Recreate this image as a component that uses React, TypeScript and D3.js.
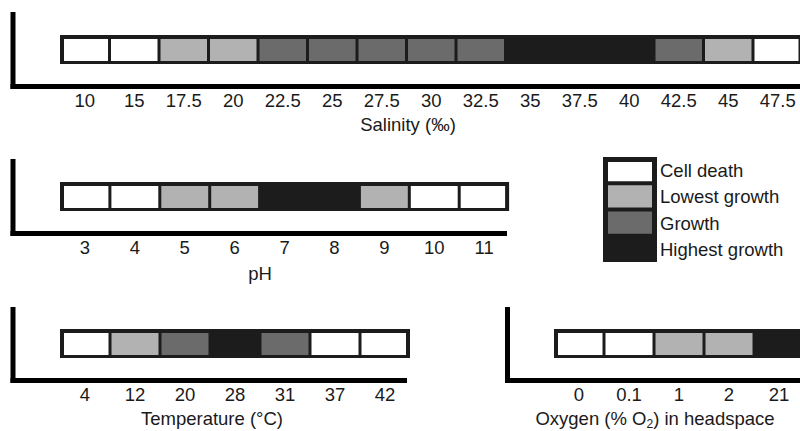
import React from "react";
import * as d3 from "d3";

// growth classes, lightest to darkest
const growthClasses = ["Cell death", "Lowest growth", "Growth", "Highest growth"];
const growthColors = ["#ffffff", "#b2b2b2", "#6b6b6b", "#1c1c1c"];

const salinityLevels = ["10", "15", "17.5", "20", "22.5", "25", "27.5", "30", "32.5", "35", "37.5", "40", "42.5", "45", "47.5"];
const salinityGrowth = [0, 0, 1, 1, 2, 2, 2, 2, 2, 3, 3, 3, 2, 1, 0];

const phLevels = ["3", "4", "5", "6", "7", "8", "9", "10", "11"];
const phGrowth = [0, 0, 1, 1, 3, 3, 1, 0, 0];

const tempLevels = ["4", "12", "20", "28", "31", "37", "42"];
const tempGrowth = [0, 1, 2, 3, 2, 0, 0];

const oxygenLevels = ["0", "0.1", "1", "2", "21"];
const oxygenGrowth = [0, 0, 1, 1, 3];

const FONT = "'Liberation Sans', Arial, Helvetica, sans-serif";
const DARK = "#1c1c1c";
const FS = 18.5;

type PanelProps = {
  levels: string[];
  growth: number[];
  axisX: number;
  axisTop: number;
  axisY: number;
  axisEnd: number;
  barX: number;
  barY: number;
  pitch: number;
  title: React.ReactNode;
  titleX: number;
  titleDy?: number;
};

function Panel(p: PanelProps) {
  const x = d3
    .scaleBand<string>()
    .domain(p.levels)
    .range([p.barX, p.barX + p.pitch * p.levels.length])
    .paddingInner(0);
  const color = d3.scaleOrdinal<number, string>().domain([0, 1, 2, 3]).range(growthColors);
  const barH = 29;
  const bw = x.bandwidth();
  const [r0, r1] = x.range();
  return (
    <g>
      {/* dark frame behind cells */}
      <rect x={r0} y={p.barY} width={r1 - r0} height={barH} fill={DARK} />
      {p.levels.map((lv, i) => (
        <rect
          key={lv}
          x={(x(lv) as number) + (i === 0 ? 4 : 1.5)}
          y={p.barY + 4}
          width={bw - (i === 0 ? 5.5 : 3) - (i === p.levels.length - 1 ? 2.5 : 0)}
          height={barH - 7}
          fill={color(p.growth[i])}
        />
      ))}
      {/* L-shaped axis */}
      <line x1={p.axisX} x2={p.axisX} y1={p.axisTop} y2={p.axisY + 2.5} stroke="#000" strokeWidth={5} />
      <line x1={p.axisX - 2.5} x2={p.axisEnd} y1={p.axisY} y2={p.axisY} stroke="#000" strokeWidth={5} />
      {p.levels.map((lv) => (
        <text
          key={"t" + lv}
          x={(x(lv) as number) + bw / 2}
          y={p.axisY + 20}
          textAnchor="middle"
          fontSize={FS}
          fontFamily={FONT}
          fill="#1a1a1a"
        >
          {lv}
        </text>
      ))}
      <text
        x={p.titleX}
        y={p.axisY + (p.titleDy ?? 44.5)}
        textAnchor="middle"
        fontSize={FS}
        fontFamily={FONT}
        fill="#1a1a1a"
      >
        {p.title}
      </text>
    </g>
  );
}

function Legend({ x, y }: { x: number; y: number }) {
  const yb = d3.scaleBand<string>().domain(growthClasses).range([y, y + 105]);
  const h = yb.bandwidth();
  return (
    <g>
      <rect x={x} y={y} width={54} height={105} fill={DARK} />
      {growthClasses.map((c, i) => (
        <g key={c}>
          <rect
            x={x + 5}
            y={(yb(c) as number) + (i === 0 ? 5 : 2)}
            width={44}
            height={h - (i === 0 ? 7 : 4)}
            fill={growthColors[i]}
          />
          <text
            x={x + 57}
            y={(yb(c) as number) + h / 2 + 7}
            fontSize={FS}
            fontFamily={FONT}
            fill="#1a1a1a"
          >
            {c}
          </text>
        </g>
      ))}
    </g>
  );
}

export default function App() {
  return (
    <svg
      width={800}
      height={431}
      style={{ position: "absolute", left: 0, top: 0, background: "#fff" }}
    >
      <Panel
        levels={salinityLevels}
        growth={salinityGrowth}
        axisX={13}
        axisTop={12}
        axisY={86.5}
        axisEnd={800}
        barX={60}
        barY={35}
        pitch={49.5}
        title="Salinity (‰)"
        titleX={408}
      />
      <Panel
        levels={phLevels}
        growth={phGrowth}
        axisX={13}
        axisTop={159}
        axisY={233.5}
        axisEnd={507}
        barX={60}
        barY={182}
        pitch={49.9}
        title="pH"
        titleX={260}
        titleDy={46}
      />
      <Panel
        levels={tempLevels}
        growth={tempGrowth}
        axisX={13}
        axisTop={307}
        axisY={380.5}
        axisEnd={407}
        barX={60}
        barY={329}
        pitch={50}
        title="Temperature (°C)"
        titleX={212}
      />
      <Panel
        levels={oxygenLevels}
        growth={oxygenGrowth}
        axisX={507.5}
        axisTop={307}
        axisY={380.5}
        axisEnd={800}
        barX={554}
        barY={329}
        pitch={50}
        title={
          <>
            Oxygen (% O<tspan fontSize={12} dy={3}>2</tspan>
            <tspan dy={-3}>) in headspace</tspan>
          </>
        }
        titleX={655}
      />
      <Legend x={603} y={157} />
    </svg>
  );
}
